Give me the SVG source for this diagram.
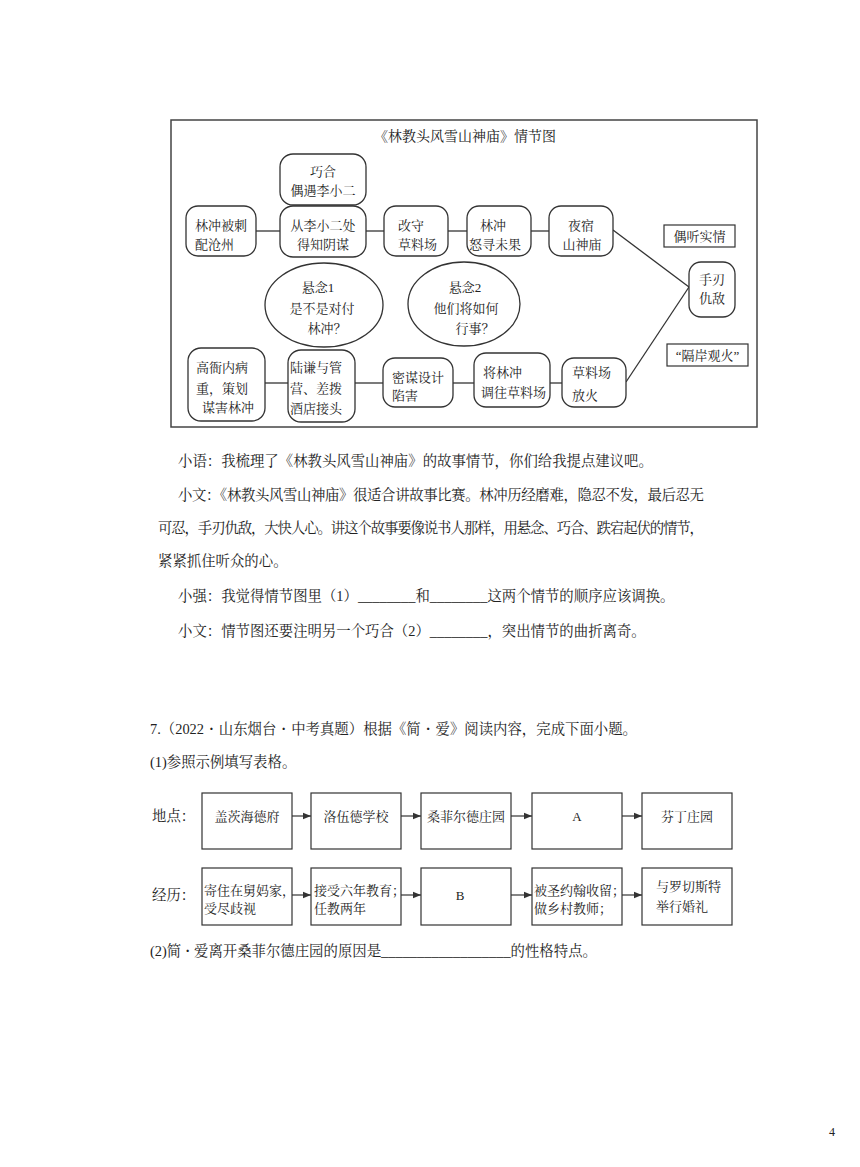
<svg xmlns="http://www.w3.org/2000/svg" width="860" height="1167" viewBox="0 0 860 1167">
<style>
text{font-family:"Liberation Serif","Noto Serif CJK SC","Noto Sans CJK SC",serif;fill:#222}
.n{font-size:13px}
.p{font-size:14.4px}
.c{text-anchor:middle}
.d{font-weight:bold}
.rb{fill:#fff;stroke:#333;stroke-width:1.3}
.bx{fill:#fff;stroke:#333;stroke-width:1.2}
.ln{stroke:#333;stroke-width:1.3;fill:none}
.ar{stroke:#333;stroke-width:1.2;fill:none;marker-end:url(#ah)}
</style>
<defs>
<marker id="ah" viewBox="0 0 10 10" refX="10" refY="5" markerWidth="8" markerHeight="8" markerUnits="userSpaceOnUse" orient="auto">
<path d="M0,1 L10,5 L0,9 Z" fill="#333"/>
</marker>
</defs>
<rect width="860" height="1167" fill="#fff"/>

<!-- Plot diagram -->
<rect x="171" y="120" width="586" height="307" fill="none" stroke="#444" stroke-width="1.5"/>
<text class="c" x="465" y="141" style="font-size:14px">《林教头风雪山神庙》情节图</text>

<g id="connectors-top">
<line class="ln" x1="256" y1="231" x2="280" y2="231"/>
<line class="ln" x1="366" y1="231" x2="384" y2="231"/>
<line class="ln" x1="448" y1="231" x2="467" y2="231"/>
<line class="ln" x1="531" y1="231" x2="549" y2="231"/>
<line class="ln" x1="613" y1="230" x2="689" y2="287"/>
<line class="ln" x1="626" y1="382" x2="689" y2="287"/>
<line class="ln" x1="265" y1="383" x2="288" y2="383"/>
<line class="ln" x1="355" y1="383" x2="383" y2="383"/>
<line class="ln" x1="453" y1="383" x2="474" y2="383"/>
<line class="ln" x1="550" y1="383" x2="562" y2="383"/>
</g>

<g id="n-peiqiao">
<rect class="rb" x="280" y="154" width="86" height="51" rx="13"/>
<text class="n c" x="323" y="176">巧合</text>
<text class="n c" x="323" y="195">偶遇李小二</text>
</g>
<g id="n-cangzhou">
<rect class="rb" x="186" y="206" width="70" height="50" rx="12"/>
<text class="n" x="195" y="230">林冲被刺</text>
<text class="n" x="195" y="249">配沧州</text>
</g>
<g id="n-dezhi">
<rect class="rb" x="280" y="206" width="86" height="51" rx="13"/>
<text class="n c" x="323" y="230">从李小二处</text>
<text class="n c" x="323" y="249">得知阴谋</text>
</g>
<g id="n-gaishou">
<rect class="rb" x="384" y="206" width="64" height="50" rx="12"/>
<text class="n" x="398" y="230">改守</text>
<text class="n" x="398" y="249">草料场</text>
</g>
<g id="n-nuxun">
<rect class="rb" x="467" y="206" width="64" height="50" rx="12"/>
<text class="n" x="480" y="230">林冲</text>
<text class="n" x="469" y="249">怒寻未果</text>
</g>
<g id="n-yesu">
<rect class="rb" x="549" y="206" width="64" height="50" rx="12"/>
<text class="n c" x="581" y="230">夜宿</text>
<text class="n c" x="582" y="249">山神庙</text>
</g>
<g id="n-outing">
<rect class="bx" x="664" y="225" width="71" height="22"/>
<text class="n c" x="699.5" y="241">偶听实情</text>
</g>
<g id="n-shouren">
<rect class="rb" x="689" y="262" width="46" height="55" rx="12"/>
<text class="n c" x="712" y="284">手刃</text>
<text class="n c" x="712" y="303">仇敌</text>
</g>
<g id="n-gean">
<rect class="bx" x="667" y="344" width="81" height="22"/>
<text class="n c" x="707.5" y="360">“隔岸观火”</text>
</g>
<g id="n-xuannian1">
<ellipse cx="324" cy="305" rx="59" ry="42" fill="#fff" stroke="#333" stroke-width="1.3"/>
<text class="n c" x="318" y="292">悬念1</text>
<text class="n c" x="322" y="313">是不是对付</text>
<text class="n c" x="327" y="333">林冲？</text>
</g>
<g id="n-xuannian2">
<ellipse cx="464" cy="304" rx="56" ry="42" fill="#fff" stroke="#333" stroke-width="1.3"/>
<text class="n c" x="465" y="292">悬念2</text>
<text class="n c" x="466" y="313">他们将如何</text>
<text class="n c" x="475" y="333">行事？</text>
</g>
<g id="n-gaoyanei">
<rect class="rb" x="188" y="348" width="77" height="73" rx="13"/>
<text class="n" x="196" y="372">高衙内病</text>
<text class="n" x="196" y="393">重，策划</text>
<text class="n" x="202" y="412">谋害林冲</text>
</g>
<g id="n-luqian">
<rect class="rb" x="288" y="350" width="67" height="72" rx="13"/>
<text class="n" x="290" y="372">陆谦与管</text>
<text class="n" x="290" y="393">营、差拨</text>
<text class="n" x="290" y="413">酒店接头</text>
</g>
<g id="n-mimou">
<rect class="rb" x="383" y="358" width="70" height="49" rx="12"/>
<text class="n" x="392" y="382">密谋设计</text>
<text class="n" x="392" y="400">陷害</text>
</g>
<g id="n-diaowang">
<rect class="rb" x="474" y="353" width="76" height="54" rx="12"/>
<text class="n" x="483" y="377">将林冲</text>
<text class="n" x="481" y="397">调往草料场</text>
</g>
<g id="n-fanghuo">
<rect class="rb" x="562" y="358" width="64" height="49" rx="12"/>
<text class="n" x="572" y="377">草料场</text>
<text class="n" x="572" y="400">放火</text>
</g>

<!-- Dialogue text -->
<text class="p" x="178" y="466">小语：我梳理了《林教头风雪山神庙》的故事情节，你们给我提点建议吧。</text>
<text class="p" x="178" y="500" textLength="526" lengthAdjust="spacing">小文：《林教头风雪山神庙》很适合讲故事比赛。林冲历经磨难，隐忍不发，最后忍无</text>
<text class="p" x="158" y="533" textLength="546" lengthAdjust="spacing">可忍，手刃仇敌，大快人心。讲这个故事要像说书人那样，用悬念、巧合、跌宕起伏的情节，</text>
<text class="p" x="158" y="566">紧紧抓住听众的心。</text>
<text class="p" x="178" y="601">小强：我觉得情节图里（1）________和________这两个情节的顺序应该调换。</text>
<text class="p" x="178" y="636">小文：情节图还要注明另一个巧合（2）________，突出情节的曲折离奇。</text>

<text class="p" x="150" y="734">7.（2022<tspan class="d" dx="5">·</tspan><tspan dx="5">山东烟台</tspan><tspan class="d" dx="5">·</tspan><tspan dx="5">中考真题）根据《简</tspan><tspan class="d" dx="5">·</tspan><tspan dx="5">爱》阅读内容，完成下面小题。</tspan></text>
<text class="p" x="150" y="767">(1)参照示例填写表格。</text>

<!-- Jane Eyre chart -->
<text class="p" x="152" y="821">地点：</text>
<text class="p" x="152" y="900">经历：</text>

<g id="connectors-jane">
<line class="ar" x1="292" y1="816" x2="311" y2="816"/>
<line class="ar" x1="401" y1="816" x2="421" y2="816"/>
<line class="ar" x1="511" y1="816" x2="532" y2="816"/>
<line class="ar" x1="622" y1="816" x2="642" y2="816"/>
<line class="ar" x1="292" y1="895" x2="311" y2="895"/>
<line class="ar" x1="401" y1="895" x2="421" y2="895"/>
<line class="ar" x1="511" y1="895" x2="532" y2="895"/>
<line class="ar" x1="622" y1="895" x2="642" y2="895"/>
</g>

<g id="j-p1"><rect class="bx" x="202" y="793" width="90" height="56"/><text class="n c" x="247" y="821">盖茨海德府</text></g>
<g id="j-p2"><rect class="bx" x="311" y="793" width="90" height="56"/><text class="n c" x="356" y="821">洛伍德学校</text></g>
<g id="j-p3"><rect class="bx" x="421" y="793" width="90" height="56"/><text class="n c" x="466" y="821">桑菲尔德庄园</text></g>
<g id="j-p4"><rect class="bx" x="532" y="793" width="90" height="56"/><text class="n c" x="577" y="821">A</text></g>
<g id="j-p5"><rect class="bx" x="642" y="793" width="90" height="56"/><text class="n c" x="687" y="821">芬丁庄园</text></g>

<g id="j-e1"><rect class="bx" x="202" y="868" width="90" height="57"/><text class="n" x="204" y="895">寄住在舅妈家，</text><text class="n" x="204" y="913">受尽歧视</text></g>
<g id="j-e2"><rect class="bx" x="311" y="868" width="90" height="57"/><text class="n" x="314" y="895">接受六年教育；</text><text class="n" x="314" y="913">任教两年</text></g>
<g id="j-e3"><rect class="bx" x="421" y="868" width="90" height="57"/><text class="n c" x="460" y="900">B</text></g>
<g id="j-e4"><rect class="bx" x="532" y="868" width="90" height="57"/><text class="n" x="534" y="895">被圣约翰收留；</text><text class="n" x="534" y="913">做乡村教师；</text></g>
<g id="j-e5"><rect class="bx" x="642" y="868" width="90" height="57"/><text class="n" x="656" y="891">与罗切斯特</text><text class="n" x="656" y="911">举行婚礼</text></g>

<text class="p" x="150" y="956">(2)简<tspan class="d" dx="4">·</tspan><tspan dx="4">爱离开桑菲尔德庄园的原因是__________________的性格特点。</tspan></text>

<text x="829" y="1136" style="font-size:12px">4</text>
</svg>
